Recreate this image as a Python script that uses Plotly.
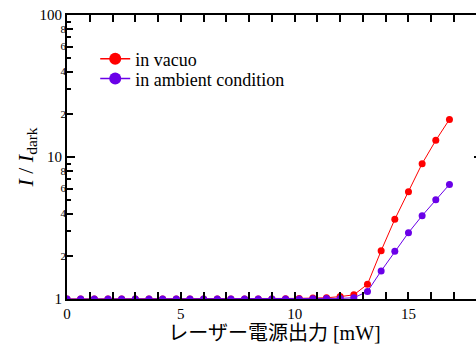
import plotly.graph_objects as go

power_mw = [round(0.6 * i, 1) for i in range(29)]
ratio_vacuo = [1.0, 1.0, 1.0, 1.0, 1.0, 1.0, 1.0, 1.0, 1.0, 1.0, 1.0, 1.0, 1.0, 1.0, 1.0, 1.0,
               1.005, 1.01, 1.015, 1.02, 1.04, 1.07, 1.27, 2.19, 3.64, 5.69, 8.98, 13.1, 18.4]
ratio_ambient = [1.0, 1.0, 1.0, 1.0, 1.0, 1.0, 1.0, 1.0, 1.0, 1.0, 1.0, 1.0, 1.0, 1.0, 1.0, 1.0,
                 1.0, 1.0, 1.005, 1.01, 1.01, 1.02, 1.13, 1.575, 2.17, 2.93, 3.86, 5.0, 6.41]
series_names = ["in vacuo", "in ambient condition"]
series_colors = ["#ff0000", "#6a00e8"]

major_vals = [1, 10, 100]
minor_label_vals = [2, 4, 6, 8, 20, 40, 60, 80]
minor_label_text = ["2", "4", "6", "8", "2", "4", "6", "8"]

SERIF = "Liberation Serif, Noto Sans CJK JP"

fig = go.Figure()
for name, ys, col in zip(series_names, [ratio_vacuo, ratio_ambient], series_colors):
    fig.add_trace(go.Scatter(x=power_mw, y=ys, name=name, mode="lines+markers",
                             line=dict(color=col, width=1),
                             marker=dict(color=col, size=7), showlegend=False))
# legend entries with larger symbols, one legend box per entry
for name, col, lg in zip(series_names, series_colors, ["legend", "legend2"]):
    fig.add_trace(go.Scatter(x=[None], y=[None], name=name, mode="lines+markers",
                             line=dict(color=col, width=1.5),
                             marker=dict(color=col, size=12), legend=lg))

# invisible trace for secondary labelled axis
fig.add_trace(go.Scatter(x=[None], y=[None], yaxis="y2", showlegend=False))

legend_common = dict(xanchor="left", yanchor="middle", font=dict(size=18, family=SERIF),
                     bgcolor="rgba(0,0,0,0)", itemwidth=30, borderwidth=0)

fig.update_layout(
    width=482, height=349,
    margin=dict(l=67, r=0, t=15, b=50),
    plot_bgcolor="white", paper_bgcolor="white",
    font=dict(family=SERIF, color="black"),
    showlegend=True,
    legend=dict(x=0.068, y=0.845, **legend_common),
    legend2=dict(x=0.068, y=0.775, **legend_common),
    xaxis=dict(range=[0, 18.23], showline=True, linecolor="black", linewidth=2,
               mirror="allticks", ticks="inside", ticklen=7, tickwidth=2,
               tickcolor="black", tickvals=[0, 5, 10, 15], automargin=False,
               minor=dict(dtick=1, ticks="inside", ticklen=4, tickwidth=2, tickcolor="black", showgrid=False),
               showgrid=False, zeroline=False,
               tickfont=dict(size=15, family=SERIF),
               title=dict(text="レーザー電源出力 [mW]", font=dict(size=20, family=SERIF), standoff=4)),
    yaxis=dict(type="log", range=[0, 2], showline=True, linecolor="black", linewidth=2,
               mirror="allticks", ticks="inside", ticklen=8, tickwidth=2, automargin=False,
               tickcolor="black", tickvals=major_vals, ticktext=["1", "10", "100"],
               minor=dict(tickvals=[2, 3, 4, 5, 6, 7, 8, 9, 20, 30, 40, 50, 60, 70, 80, 90],
                          ticks="inside", ticklen=4, tickwidth=2, tickcolor="black", showgrid=False),
               showgrid=False, zeroline=False,
               tickfont=dict(size=15, family=SERIF),
               title=dict(text="<i>I</i> / <i>I</i><sub>dark</sub>", font=dict(size=22, family=SERIF), standoff=0)),
    yaxis2=dict(type="log", range=[0, 2], overlaying="y", side="left", showline=False,
                ticks="inside", ticklen=6, tickwidth=2, tickcolor="black", automargin=False,
                tickvals=minor_label_vals, ticktext=minor_label_text,
                tickfont=dict(size=11, family=SERIF), showgrid=False, zeroline=False),
)

fig.write_html("out.html", config={"displayModeBar": False},
               post_script="document.body.style.margin='0';document.body.style.overflow='hidden';")
